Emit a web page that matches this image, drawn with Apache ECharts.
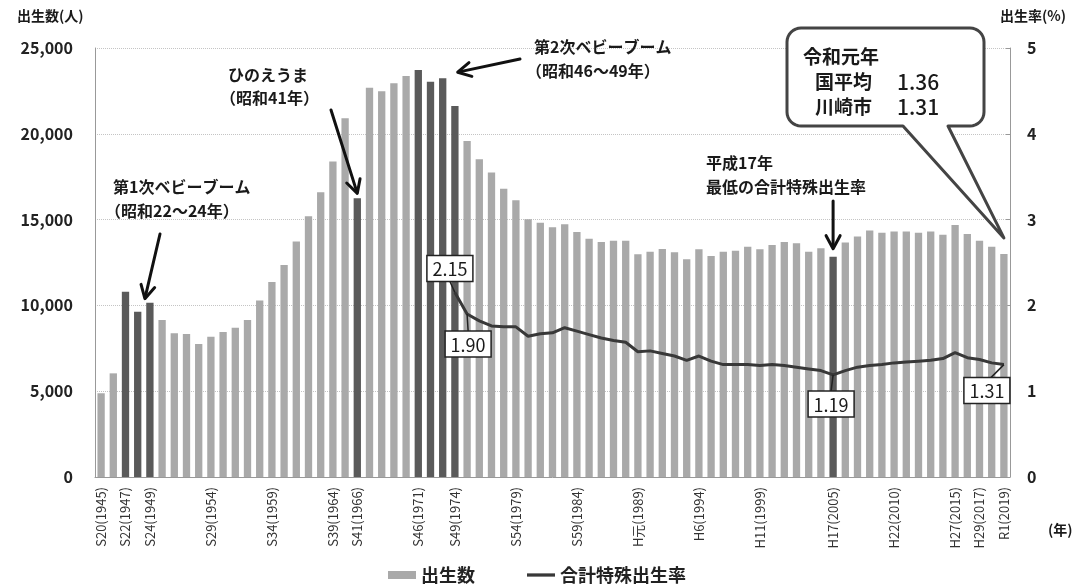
<!DOCTYPE html>
<html lang="ja">
<head>
<meta charset="utf-8">
<title>出生数と合計特殊出生率の推移</title>
<script src="https://cdn.jsdelivr.net/npm/echarts@6/dist/echarts.min.js"></script>
<style>
  html, body { margin: 0; padding: 0; background: #fff; }
  #chart { width: 1080px; height: 586px; }
</style>
</head>
<body>
<div id="chart"></div>
<script>
// 年次（西暦）
const years = [
  1945, 1946, 1947, 1948, 1949, 1950, 1951, 1952, 1953, 1954,
  1955, 1956, 1957, 1958, 1959, 1960, 1961, 1962, 1963, 1964,
  1965, 1966, 1967, 1968, 1969, 1970, 1971, 1972, 1973, 1974,
  1975, 1976, 1977, 1978, 1979, 1980, 1981, 1982, 1983, 1984,
  1985, 1986, 1987, 1988, 1989, 1990, 1991, 1992, 1993, 1994,
  1995, 1996, 1997, 1998, 1999, 2000, 2001, 2002, 2003, 2004,
  2005, 2006, 2007, 2008, 2009, 2010, 2011, 2012, 2013, 2014,
  2015, 2016, 2017, 2018, 2019
];

// 出生数（人）
const births = [
  4880, 6040, 10800, 9630, 10160, 9150, 8370, 8330, 7750, 8180,
  8450, 8700, 9150, 10280, 11370, 12360, 13720, 15200, 16590, 18380,
  20900, 16240, 22690, 22480, 22950, 23370, 23720, 23040, 23240, 21620,
  19580, 18520, 17740, 16800, 16130, 15020, 14820, 14550, 14730, 14280,
  13890, 13700, 13770, 13770, 12980, 13120, 13280, 13100, 12690, 13270,
  12880, 13130, 13190, 13420, 13270, 13520, 13700, 13620, 13130, 13330,
  12840, 13660, 14010, 14360, 14240, 14300, 14300, 14240, 14300, 14110,
  14690, 14160, 13770, 13420, 13000
];

// 合計特殊出生率（1974年以降）
const rateYears = [
  1974, 1975, 1976, 1977, 1978, 1979, 1980, 1981, 1982, 1983,
  1984, 1985, 1986, 1987, 1988, 1989, 1990, 1991, 1992, 1993,
  1994, 1995, 1996, 1997, 1998, 1999, 2000, 2001, 2002, 2003,
  2004, 2005, 2006, 2007, 2008, 2009, 2010, 2011, 2012, 2013,
  2014, 2015, 2016, 2017, 2018, 2019
];
const rates = [
  2.15, 1.90, 1.82, 1.76, 1.75, 1.75, 1.64, 1.67, 1.68, 1.74,
  1.70, 1.66, 1.62, 1.59, 1.57, 1.46, 1.47, 1.44, 1.41, 1.36,
  1.41, 1.35, 1.31, 1.31, 1.31, 1.30, 1.31, 1.30, 1.28, 1.26,
  1.24, 1.19, 1.24, 1.28, 1.30, 1.31, 1.33, 1.34, 1.35, 1.36,
  1.38, 1.45, 1.39, 1.37, 1.33, 1.31
];

// 強調する年（ベビーブーム・ひのえうま・最低出生率）
const highlightYears = [1947, 1948, 1949, 1966, 1971, 1972, 1973, 1974, 2005];

// 横軸に表示する目盛ラベル
const tickLabels = {
  1945: 'S20(1945)', 1947: 'S22(1947)', 1949: 'S24(1949)', 1954: 'S29(1954)',
  1959: 'S34(1959)', 1964: 'S39(1964)', 1966: 'S41(1966)', 1971: 'S46(1971)',
  1974: 'S49(1974)', 1979: 'S54(1979)', 1984: 'S59(1984)', 1989: 'H元(1989)',
  1994: 'H6(1994)', 1999: 'H11(1999)', 2005: 'H17(2005)', 2010: 'H22(2010)',
  2015: 'H27(2015)', 2017: 'H29(2017)', 2019: 'R1(2019)'
};

// 値ラベルを付ける出生率の年
const rateLabelYears = [1974, 1975, 2005, 2019];

const FONT = '"Noto Sans CJK JP", "Noto Sans", sans-serif';
const LIGHT = '#a9a9a9';
const DARK = '#5a5a5a';
const LINE = '#383838';

const categories = years.map(String);
const barData = births.map((v, i) => ({
  value: v,
  itemStyle: { color: highlightYears.includes(years[i]) ? DARK : LIGHT }
}));
const lineData = years.map(y => {
  const k = rateYears.indexOf(y);
  return k >= 0 ? rates[k] : null;
});

const chart = echarts.init(document.getElementById('chart'), null, { renderer: 'canvas' });

chart.setOption({
  animation: false,
  textStyle: { fontFamily: FONT },
  grid: { left: 95, right: 70, top: 48, bottom: 109, containLabel: false },
  legend: {
    left: 383, top: 561,
    itemWidth: 28, itemHeight: 8, itemGap: 52,
    textStyle: { fontSize: 18, fontWeight: 'bold', color: '#222', fontFamily: FONT },
    data: [
      { name: '出生数', icon: 'rect', itemStyle: { color: LIGHT } },
      { name: '合計特殊出生率', icon: 'path://M0,2.5 L30,2.5 L30,6 L0,6 Z', itemStyle: { color: LINE } }
    ]
  },
  xAxis: {
    type: 'category',
    data: categories,
    axisLine: { lineStyle: { color: '#999' } },
    axisTick: { show: false },
    axisLabel: {
      rotate: 90, margin: 10, fontSize: 13, color: '#333', fontFamily: FONT,
      interval: 0,
      formatter: v => tickLabels[v] || ''
    }
  },
  yAxis: [
    {
      type: 'value', min: 0, max: 25000, interval: 5000,
      axisLine: { show: true, lineStyle: { color: '#999' } },
      axisTick: { show: false },
      axisLabel: {
        margin: 22, fontSize: 16, fontWeight: 'bold', color: '#222', fontFamily: FONT,
        formatter: v => v.toLocaleString('en-US')
      },
      splitLine: { show: true, lineStyle: { color: '#c4c4c4', type: 'dotted', width: 1 } }
    },
    {
      type: 'value', min: 0, max: 5, interval: 1,
      axisLine: { show: true, lineStyle: { color: '#999' } },
      axisTick: { show: true, inside: true, length: 4, lineStyle: { color: '#999' } },
      axisLabel: { margin: 17, fontSize: 16, fontWeight: 'bold', color: '#222', fontFamily: FONT },
      splitLine: { show: false }
    }
  ],
  series: [
    {
      name: '出生数', type: 'bar', yAxisIndex: 0,
      data: barData, barCategoryGap: '40%',
      itemStyle: { color: LIGHT }
    },
    {
      name: '合計特殊出生率', type: 'line', yAxisIndex: 1,
      data: lineData, symbol: 'none', connectNulls: false,
      lineStyle: { color: LINE, width: 3 },
      itemStyle: { color: LINE },
      z: 5
    }
  ]
});

// 注記（矢印・吹き出し・値ラベル）を軸の座標から配置する
function barTop(year) {
  const i = years.indexOf(year);
  return chart.convertToPixel({ seriesIndex: 0 }, [i, births[i]]);
}
function ratePoint(year) {
  const i = years.indexOf(year);
  return chart.convertToPixel({ seriesIndex: 1 }, [i, lineData[i]]);
}

function arrow(from, to) {
  const dx = to[0] - from[0], dy = to[1] - from[1];
  const len = Math.hypot(dx, dy), ux = dx / len, uy = dy / len;
  const h = 13, w = 7;
  const bx = to[0] - ux * h, by = to[1] - uy * h;
  const style = { stroke: '#111', lineWidth: 3, fill: null, lineCap: 'round', lineJoin: 'round' };
  return [
    { type: 'line', shape: { x1: from[0], y1: from[1], x2: to[0] - ux * 1.5, y2: to[1] - uy * 1.5 }, style, z: 50 },
    { type: 'polyline', shape: { points: [[bx - uy * w, by + ux * w], to, [bx + uy * w, by - ux * w]] }, style, z: 50 }
  ];
}

function text(x, y, str, size, extra, z) {
  return {
    type: 'text', x, y, z: z || 60,
    style: Object.assign({ text: str, fontSize: size, fontWeight: 'bold', fill: '#1a1a1a', fontFamily: FONT,
      verticalAlign: 'middle' }, extra || {})
  };
}

function valueBox(year, label, dx, dy) {
  const p = ratePoint(year);
  const w = 46, h = 26;
  const cx = p[0] + dx, cy = p[1] + dy;
  const edgeY = dy > 0 ? cy - h / 2 : cy + h / 2;
  return [
    { type: 'line', shape: { x1: p[0], y1: p[1], x2: cx + (dx < -10 ? 4 : 0), y2: edgeY }, style: { stroke: '#222', lineWidth: 1.5 }, z: 55 },
    { type: 'rect', shape: { x: cx - w / 2, y: cy - h / 2, width: w, height: h }, style: { fill: '#fff', stroke: '#222', lineWidth: 1.5 }, z: 56 },
    { type: 'text', x: cx, y: cy + 1, z: 57,
      style: { text: label, fontSize: 18, fill: '#1a1a1a', fontFamily: FONT, align: 'center', verticalAlign: 'middle' } }
  ];
}

// 角丸の吹き出し（しっぽ付き）を多角形で描く
function bubble(tip) {
  const L = 787, T = 28, R = 984, B = 126, r = 14;
  const t1 = 903, t2 = 948;
  const pts = [];
  function corner(cx, cy, a0) {
    for (let s = 0; s <= 8; s++) {
      const a = (a0 + s * 90 / 8) * Math.PI / 180;
      pts.push([cx + r * Math.cos(a), cy + r * Math.sin(a)]);
    }
  }
  corner(L + r, T + r, 180);
  corner(R - r, T + r, 270);
  corner(R - r, B - r, 0);
  pts.push([t2, B], tip, [t1, B]);
  corner(L + r, B - r, 90);
  return { type: 'polygon', shape: { points: pts }, style: { fill: '#fff', stroke: '#444', lineWidth: 3, lineJoin: 'round' }, z: 70 };
}

const labelOffsets = { 1974: [-5, -24], 1975: [1, 30], 2005: [-2, 29], 2019: [-17, 26] };
const g = [];

// 軸タイトル
g.push(text(17, 16, '出生数(人)', 14));
g.push(text(1000, 16, '出生率(%)', 14));

// 第1次ベビーブーム
const b49 = barTop(1949);
g.push(...arrow([160, 234], [b49[0] - 5, b49[1] - 4]));
g.push(text(113, 187, '第1次ベビーブーム', 16));
g.push(text(105, 211, '（昭和22～24年）', 16));

// ひのえうま
const b66 = barTop(1966);
g.push(...arrow([331, 110], [b66[0], b66[1] - 5]));
g.push(text(228, 75, 'ひのえうま', 16));
g.push(text(220, 98, '（昭和41年）', 16));

// 第2次ベビーブーム
const b73 = barTop(1973);
g.push(...arrow([520, 59], [b73[0] + 15, b73[1] - 6]));
g.push(text(534, 47, '第2次ベビーブーム', 16));
g.push(text(526, 71, '（昭和46～49年）', 16));

// 平成17年 最低の合計特殊出生率
const b05 = barTop(2005);
g.push(...arrow([b05[0], 201], [b05[0], b05[1] - 8]));
g.push(text(706, 163, '平成17年', 16));
g.push(text(706, 187, '最低の合計特殊出生率', 16));

// 令和元年の吹き出し
const b19 = barTop(2019);
g.push(bubble([b19[0], b19[1] - 16]));
g.push(text(803, 57, '令和元年', 19, null, 80));
g.push(text(815, 82, '国平均', 19, null, 80));
g.push(text(897, 82, '1.36', 21, { fontWeight: 500 }, 80));
g.push(text(815, 107, '川崎市', 19, null, 80));
g.push(text(897, 107, '1.31', 21, { fontWeight: 500 }, 80));

// 出生率の値ラベル
rateLabelYears.forEach(y => {
  const k = rateYears.indexOf(y);
  const o = labelOffsets[y];
  g.push(...valueBox(y, rates[k].toFixed(2), o[0], o[1]));
});

// 横軸の単位
g.push(text(1048, 530, '(年)', 14));

chart.setOption({ graphic: { elements: g } });
</script>
</body>
</html>
